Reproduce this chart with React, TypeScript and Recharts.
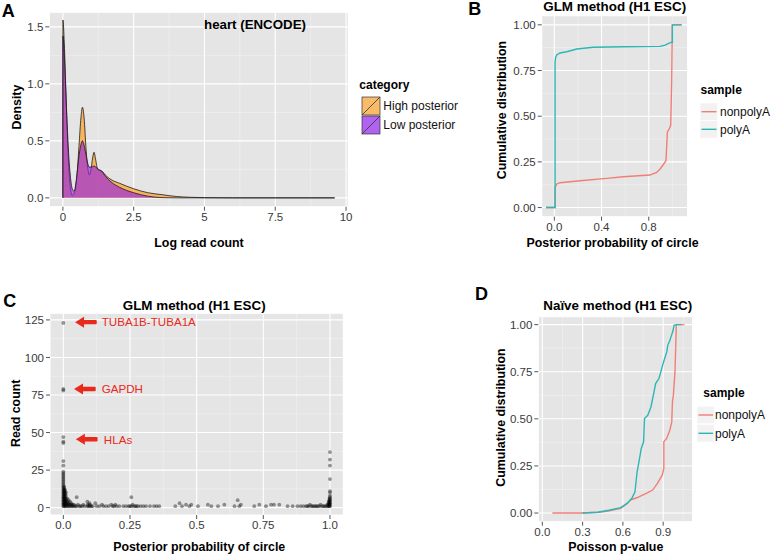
import React from 'react';
import {
  ComposedChart, LineChart, ScatterChart, Area, Line, Scatter,
  XAxis, YAxis, CartesianGrid, ReferenceDot,
} from 'recharts';

const FONT = '"Liberation Sans", Arial, Helvetica, sans-serif';
const RED = '#f07f78';
const TEAL = '#2bb7b3';
const ANNO = '#e8291c';
const BG = '#e5e5e5';

// ---------- Panel A: density ----------
const densityX = [0, 0.001, 0.05, 0.1, 0.15, 0.2, 0.26, 0.33, 0.4, 0.48, 0.56, 0.63, 0.69, 0.75, 0.82, 0.88, 0.93, 1.0, 1.05, 1.1, 1.16, 1.23, 1.3, 1.37, 1.5, 1.7, 2.0, 2.5, 3.0, 3.5, 4.0, 4.5, 5.0, 6.0, 7.5, 9.6];
const highPosterior = [0, 1.56, 1.35, 0.98, 0.6, 0.3, 0.1, 0.02, 0.04, 0.15, 0.42, 0.68, 0.795, 0.7, 0.42, 0.26, 0.2, 0.26, 0.35, 0.4, 0.33, 0.25, 0.24, 0.235, 0.2, 0.16, 0.128, 0.08, 0.045, 0.028, 0.012, 0.005, 0.002, 0, 0, 0];
const lowPosterior = [0, 1.42, 1.25, 0.95, 0.65, 0.4, 0.2, 0.08, 0.06, 0.17, 0.35, 0.46, 0.5, 0.46, 0.37, 0.3, 0.27, 0.27, 0.275, 0.28, 0.27, 0.255, 0.245, 0.235, 0.19, 0.14, 0.093, 0.045, 0.015, 0.002, 0, 0, 0, 0, 0, 0];
const aXTicks = [0, 2.5, 5, 7.5, 10];
const aXLabels = ['0', '2.5', '5', '7.5', '10'];
const aXMinor = [1.25, 3.75, 6.25, 8.75];
const aYTicks = [0, 0.5, 1, 1.5];
const aYLabels = ['0.0', '0.5', '1.0', '1.5'];
const aYMinor = [0.25, 0.75, 1.25];

// ---------- Panel B: ECDF, GLM ----------
const bPolyA: [number, number][] = [[-0.071, 0], [0.006, 0], [0.006, 0.795], [0.011, 0.822], [0.02, 0.835], [0.048, 0.846], [0.105, 0.853], [0.19, 0.868], [0.33, 0.877], [0.585, 0.88], [0.895, 0.882], [0.938, 0.889], [0.986, 0.904], [1.0, 0.904], [1.0, 1.0], [1.079, 1.0]];
const bNonPolyA: [number, number][] = [[-0.071, 0], [0.006, 0], [0.006, 0.109], [0.02, 0.129], [0.048, 0.136], [0.218, 0.147], [0.443, 0.16], [0.585, 0.169], [0.81, 0.178], [0.867, 0.192], [0.9, 0.214], [0.93, 0.241], [0.946, 0.258], [0.958, 0.414], [0.975, 0.432], [0.986, 0.45], [0.994, 0.686], [1.0, 1.0], [1.079, 1.0]];
const bXTicks = [0, 0.4, 0.8];
const bXLabels = ['0.0', '0.4', '0.8'];
const bXMinor = [0.2, 0.6, 1.0];
const cdfYTicks = [0, 0.25, 0.5, 0.75, 1];
const cdfYLabels = ['0.00', '0.25', '0.50', '0.75', '1.00'];
const cdfYMinor = [0.125, 0.375, 0.625, 0.875];

// ---------- Panel C: scatter ----------
const readCountPoints: [number, number][] = [
  [0, 123], [0, 79], [0, 78], [0, 47], [0, 44], [0, 43], [0, 31], [0, 28], [0, 24], [0, 23], [0, 22], [0, 21], [0, 20], [0, 19], [0, 18], [0, 17], [0, 16], [0, 15], [0, 14], [0, 13], [0, 12], [0, 11], [0, 10], [0, 9], [0, 8], [0, 7], [0, 6], [0, 5], [0, 4], [0, 3], [0, 2], [0, 1],
  [0.003, 14], [0.003, 13], [0.003, 12], [0.003, 11], [0.003, 10], [0.003, 9], [0.003, 8], [0.003, 7], [0.003, 6], [0.003, 5], [0.003, 4], [0.003, 3], [0.003, 2], [0.003, 1],
  [0.006, 12], [0.006, 11], [0.006, 10], [0.006, 9], [0.006, 8], [0.006, 7], [0.006, 6], [0.006, 5], [0.006, 4], [0.006, 3], [0.006, 2], [0.006, 1],
  [0.01, 10], [0.01, 8], [0.01, 6], [0.01, 5], [0.01, 4], [0.01, 3], [0.01, 2], [0.01, 1],
  [0.015, 6], [0.015, 4], [0.015, 3], [0.015, 2], [0.015, 1],
  [0.02, 5], [0.02, 3], [0.02, 2], [0.02, 1],
  [0.025, 4], [0.025, 2], [0.025, 1],
  [0.03, 3], [0.03, 2], [0.03, 1],
  [0.035, 2], [0.035, 1], [0.04, 2], [0.04, 1], [0.045, 1],
  [0.05, 7], [0.05, 1], [0.055, 2], [0.06, 1], [0.065, 1], [0.07, 1], [0.075, 2], [0.08, 1],
  [0.09, 4], [0.09, 1], [0.092, 2], [0.095, 1], [0.098, 3], [0.1, 1], [0.1, 2], [0.105, 1], [0.11, 1],
  [0.12, 3], [0.125, 1], [0.135, 1], [0.145, 2], [0.15, 1], [0.16, 1], [0.17, 1], [0.18, 2], [0.185, 1], [0.19, 1], [0.195, 2], [0.2, 1], [0.21, 1], [0.225, 1], [0.235, 1], [0.245, 1],
  [0.255, 7], [0.25, 1], [0.255, 1], [0.26, 2], [0.265, 1], [0.27, 1], [0.275, 1], [0.28, 1], [0.29, 1], [0.3, 1], [0.31, 1], [0.325, 1], [0.34, 1], [0.35, 1], [0.36, 1],
  [0.42, 1], [0.436, 3], [0.445, 1], [0.46, 2], [0.473, 1], [0.48, 2], [0.505, 1], [0.542, 2], [0.555, 1], [0.58, 1], [0.604, 2], [0.642, 1], [0.654, 5], [0.66, 1], [0.666, 2], [0.716, 1], [0.735, 2], [0.76, 1], [0.779, 2], [0.79, 2], [0.81, 2], [0.841, 1], [0.86, 1],
  [0.878, 1], [0.89, 1], [0.9, 1], [0.91, 1], [0.915, 1], [0.92, 1], [0.925, 2], [0.93, 1], [0.935, 1], [0.94, 1], [0.945, 1], [0.95, 1], [0.955, 1], [0.96, 1], [0.965, 2], [0.97, 1], [0.975, 1], [0.98, 1], [0.985, 1], [0.99, 1], [0.99, 2], [0.995, 1], [0.995, 2], [0.995, 3], [0.995, 4],
  [0.998, 1], [0.998, 2], [0.998, 3], [0.998, 4], [0.998, 5], [0.998, 6],
  [1, 1], [1, 2], [1, 3], [1, 4], [1, 5], [1, 6], [1, 7], [1, 8], [1, 10], [1, 11], [1, 19], [1, 28], [1, 32], [1, 37],
];
const cXTicks = [0, 0.25, 0.5, 0.75, 1];
const cXLabels = ['0.0', '0.25', '0.5', '0.75', '1.0'];
const cXMinor = [0.125, 0.375, 0.625, 0.875];
const cYTicks = [0, 25, 50, 75, 100, 125];
const cYMinor = [12.5, 37.5, 62.5, 87.5, 112.5];
const cAnnotations = [
  { x: 0.044, y: 123.5, label: 'TUBA1B-TUBA1A', gap: 26.7 },
  { x: 0.04, y: 79, label: 'GAPDH', gap: 27.7 },
  { x: 0.047, y: 45.5, label: 'HLAs', gap: 28 },
];

// ---------- Panel D: ECDF, naive ----------
const dNonPolyA: [number, number][] = [[0.075, 0], [0.3, 0], [0.419, 0.004], [0.49, 0.01], [0.584, 0.025], [0.632, 0.051], [0.655, 0.069], [0.703, 0.081], [0.774, 0.104], [0.822, 0.122], [0.857, 0.157], [0.893, 0.201], [0.905, 0.237], [0.905, 0.378], [0.926, 0.396], [0.95, 0.44], [0.964, 0.484], [0.969, 0.59], [0.976, 0.625], [0.988, 0.749], [0.993, 0.873], [0.998, 1.0], [1.058, 1.0]];
const dPolyA: [number, number][] = [[0.3, 0], [0.41, 0.004], [0.505, 0.016], [0.584, 0.029], [0.632, 0.051], [0.667, 0.078], [0.69, 0.113], [0.706, 0.219], [0.713, 0.245], [0.737, 0.343], [0.754, 0.378], [0.761, 0.502], [0.785, 0.519], [0.809, 0.563], [0.832, 0.643], [0.844, 0.687], [0.868, 0.714], [0.879, 0.74], [0.903, 0.802], [0.927, 0.855], [0.934, 0.89], [0.95, 0.917], [0.962, 0.943], [0.974, 0.97], [0.981, 0.996], [0.998, 1.0], [1.035, 1.0]];
const dXTicks = [0, 0.3, 0.6, 0.9];
const dXLabels = ['0.0', '0.3', '0.6', '0.9'];
const dXMinor = [0.15, 0.45, 0.75, 1.05];

const toXY = (arr: [number, number][]) => arr.map(([x, y]) => ({ x, y }));
const fmt = (ticks: number[], labels: string[]) => (v: number) => {
  const i = ticks.findIndex((t) => Math.abs(t - v) < 1e-9);
  return i >= 0 ? labels[i] : String(v);
};

const tickStyle = { fontSize: 11.5, fill: '#3a3a3a', fontFamily: FONT };
const tickLine = { stroke: '#555', strokeWidth: 1 };

const Grids = (xMinor: number[], yMinor: number[]) => [
  <CartesianGrid key="minor" fill={BG} stroke="#f2f2f2" strokeWidth={0.6} verticalValues={xMinor} horizontalValues={yMinor} />,
  <CartesianGrid key="major" stroke="#ffffff" strokeWidth={1.1} />,
];

const arrowShape = (label: string, gap: number) => (p: any) => {
  const { cx, cy } = p;
  return (
    <g>
      <polygon points={`${cx},${cy} ${cx + 9},${cy - 5.5} ${cx + 9},${cy + 5.5}`} fill={ANNO} />
      <rect x={cx + 8} y={cy - 2.2} width={13.7} height={4.4} rx={1} fill={ANNO} />
      <text x={cx + gap} y={cy + 4.2} fill={ANNO} fontSize={11.6} fontFamily={FONT}>{label}</text>
    </g>
  );
};

function PanelA() {
  const data = densityX.map((x, i) => ({ x, high: highPosterior[i], low: lowPosterior[i] }));
  return (
    <div style={{ position: 'absolute', left: 0, top: 0 }}>
      <ComposedChart width={360} height={230} data={data} margin={{ top: 12.3, right: 11.7, bottom: 3.3, left: 0 }}>
        {Grids(aXMinor, aYMinor)}
        <XAxis type="number" dataKey="x" domain={[-0.48, 10.08]} ticks={aXTicks} tickFormatter={fmt(aXTicks, aXLabels)} interval={0}
          allowDataOverflow axisLine={false} tickLine={tickLine} tickSize={4} tickMargin={2} height={20} tick={tickStyle} />
        <YAxis type="number" domain={[-0.0775, 1.6275]} ticks={aYTicks} tickFormatter={fmt(aYTicks, aYLabels)} interval={0}
          allowDataOverflow axisLine={false} tickLine={tickLine} tickSize={4} tickMargin={2} width={49.3} tick={tickStyle} />
        <Area type="monotone" dataKey="high" baseValue={0} fill="rgb(255,160,40)" fillOpacity={0.7} stroke="#1a1a1a" strokeWidth={0.8}
          dot={false} activeDot={false} isAnimationActive={false} />
        <Area type="monotone" dataKey="low" baseValue={0} fill="rgb(152,38,222)" fillOpacity={0.66} stroke="#1a1a1a" strokeWidth={0.8}
          dot={false} activeDot={false} isAnimationActive={false} />
      </ComposedChart>
    </div>
  );
}

function PanelB() {
  return (
    <div style={{ position: 'absolute', left: 470, top: 0 }}>
      <LineChart width={230} height={240} margin={{ top: 15.7, right: 12.3, bottom: 3.3, left: 0 }}>
        {Grids(bXMinor, cdfYMinor)}
        <XAxis type="number" dataKey="x" domain={[-0.107, 1.13]} ticks={bXTicks} tickFormatter={fmt(bXTicks, bXLabels)} interval={0}
          allowDataOverflow axisLine={false} tickLine={tickLine} tickSize={4} tickMargin={2} height={20} tick={tickStyle} />
        <YAxis type="number" dataKey="y" domain={[-0.05, 1.05]} ticks={cdfYTicks} tickFormatter={fmt(cdfYTicks, cdfYLabels)} interval={0}
          allowDataOverflow axisLine={false} tickLine={tickLine} tickSize={4} tickMargin={2} width={71.7} tick={tickStyle} />
        <Line data={toXY(bNonPolyA)} dataKey="y" type="linear" stroke={RED} strokeWidth={1.4} dot={false} activeDot={false} isAnimationActive={false} />
        <Line data={toXY(bPolyA)} dataKey="y" type="linear" stroke={TEAL} strokeWidth={1.4} dot={false} activeDot={false} isAnimationActive={false} />
      </LineChart>
    </div>
  );
}

function PanelC() {
  return (
    <div style={{ position: 'absolute', left: 0, top: 280 }}>
      <ScatterChart width={360} height={260} margin={{ top: 33.3, right: 16.7, bottom: 5, left: 0 }}>
        {Grids(cXMinor, cYMinor)}
        <XAxis type="number" dataKey="x" domain={[-0.05, 1.05]} ticks={cXTicks} tickFormatter={fmt(cXTicks, cXLabels)} interval={0}
          allowDataOverflow axisLine={false} tickLine={tickLine} tickSize={4} tickMargin={2} height={20} tick={tickStyle} />
        <YAxis type="number" dataKey="y" domain={[-4.9, 129.4]} ticks={cYTicks} interval={0}
          allowDataOverflow axisLine={false} tickLine={tickLine} tickSize={4} tickMargin={2} width={50} tick={tickStyle} />
        <Scatter data={toXY(readCountPoints)} isAnimationActive={false}
          shape={(p: any) => <circle cx={p.cx} cy={p.cy} r={1.9} fill="#000" fillOpacity={0.4} />} />
        {cAnnotations.map((a) => (
          <ReferenceDot key={a.label} x={a.x} y={a.y} r={0} shape={arrowShape(a.label, a.gap)} />
        ))}
      </ScatterChart>
    </div>
  );
}

function PanelD() {
  return (
    <div style={{ position: 'absolute', left: 470, top: 280 }}>
      <LineChart width={230} height={270} margin={{ top: 36.7, right: 7.3, bottom: 8.3, left: 0 }}>
        {Grids(dXMinor, cdfYMinor)}
        <XAxis type="number" dataKey="x" domain={[-0.03, 1.12]} ticks={dXTicks} tickFormatter={fmt(dXTicks, dXLabels)} interval={0}
          allowDataOverflow axisLine={false} tickLine={tickLine} tickSize={4} tickMargin={2} height={20} tick={tickStyle} />
        <YAxis type="number" dataKey="y" domain={[-0.046, 1.042]} ticks={cdfYTicks} tickFormatter={fmt(cdfYTicks, cdfYLabels)} interval={0}
          allowDataOverflow axisLine={false} tickLine={tickLine} tickSize={4} tickMargin={2} width={68.3} tick={tickStyle} />
        <Line data={toXY(dNonPolyA)} dataKey="y" type="linear" stroke={RED} strokeWidth={1.4} dot={false} activeDot={false} isAnimationActive={false} />
        <Line data={toXY(dPolyA)} dataKey="y" type="linear" stroke={TEAL} strokeWidth={1.4} dot={false} activeDot={false} isAnimationActive={false} />
      </LineChart>
    </div>
  );
}

const T = (props: any) => <text fontFamily={FONT} fill="#000" {...props} />;

function Overlay() {
  const title = { fontSize: 13.4, fontWeight: 'bold', textAnchor: 'middle' };
  const axisT = { fontSize: 12.4, fontWeight: 'bold', textAnchor: 'middle' };
  const letter = { fontSize: 18, fontWeight: 'bold' };
  const leg = { fontSize: 12, fill: '#111' };
  const legT = { fontSize: 12, fontWeight: 'bold' };
  return (
    <svg width={777} height={554} style={{ position: 'absolute', left: 0, top: 0, pointerEvents: 'none' }}>
      {/* Panel A */}
      <T x={1.7} y={16.7} {...letter}>A</T>
      <T x={255} y={29.3} {...title} fontSize={13.3}>heart (ENCODE)</T>
      <T x={199} y={247.2} {...axisT}>Log read count</T>
      <T transform="translate(21,107) rotate(-90)" {...axisT}>Density</T>
      <T x={359.3} y={89} {...legT}>category</T>
      <rect x={362} y={97} width={18} height={18} fill="#f8bb6a" stroke="#333" strokeWidth={0.7} />
      <line x1={362} y1={115} x2={380} y2={97} stroke="#333" strokeWidth={0.8} />
      <rect x={362} y={116} width={18} height={18} fill="#b063ee" stroke="#333" strokeWidth={0.7} />
      <line x1={362} y1={134} x2={380} y2={116} stroke="#333" strokeWidth={0.8} />
      <T x={383.3} y={110.3} {...leg}>High posterior</T>
      <T x={383.3} y={129.3} {...leg}>Low posterior</T>

      {/* Panel B */}
      <T x={468.3} y={15} {...letter}>B</T>
      <T x={614.7} y={10.7} {...title}>GLM method (H1 ESC)</T>
      <T x={612.5} y={247.2} {...axisT}>Posterior probability of circle</T>
      <T transform="translate(505.5,110) rotate(-90)" {...axisT}>Cumulative distribution</T>
      <T x={700.5} y={94} {...legT}>sample</T>
      <rect x={700} y={103} width={17.5} height={17.5} fill="#f2f2f2" stroke="#fff" strokeWidth={0.5} />
      <line x1={701.5} y1={111.7} x2={716.5} y2={111.7} stroke={RED} strokeWidth={1.4} />
      <rect x={700} y={120.6} width={17.5} height={17.5} fill="#f2f2f2" stroke="#fff" strokeWidth={0.5} />
      <line x1={701.5} y1={129.3} x2={716.5} y2={129.3} stroke={TEAL} strokeWidth={1.4} />
      <T x={720} y={116} {...leg}>nonpolyA</T>
      <T x={720} y={133.6} {...leg}>polyA</T>

      {/* Panel C */}
      <T x={3.3} y={306.7} {...letter}>C</T>
      <T x={194.2} y={309.5} {...title}>GLM method (H1 ESC)</T>
      <T x={199.2} y={550.6} {...axisT}>Posterior probability of circle</T>
      <T transform="translate(20,413.3) rotate(-90)" {...axisT}>Read count</T>

      {/* Panel D */}
      <T x={475} y={300} {...letter}>D</T>
      <T x={617.7} y={309.6} {...title}>Naïve method (H1 ESC)</T>
      <T x={615.8} y={550.6} {...axisT}>Poisson p-value</T>
      <T transform="translate(505,417.5) rotate(-90)" {...axisT}>Cumulative distribution</T>
      <T x={703.3} y={397} {...legT}>sample</T>
      <rect x={697} y={406.2} width={17.5} height={17.5} fill="#f2f2f2" stroke="#fff" strokeWidth={0.5} />
      <line x1={698.5} y1={415} x2={713} y2={415} stroke={RED} strokeWidth={1.4} />
      <rect x={697} y={424.5} width={17.5} height={17.5} fill="#f2f2f2" stroke="#fff" strokeWidth={0.5} />
      <line x1={698.5} y1={433.3} x2={713} y2={433.3} stroke={TEAL} strokeWidth={1.4} />
      <T x={715} y={419.3} {...leg}>nonpolyA</T>
      <T x={715} y={437.6} {...leg}>polyA</T>
    </svg>
  );
}

export default function App() {
  return (
    <div style={{ position: 'absolute', left: 0, top: 0, width: 777, height: 554, background: '#fff', overflow: 'hidden' }}>
      <PanelA />
      <PanelB />
      <PanelC />
      <PanelD />
      <Overlay />
    </div>
  );
}
